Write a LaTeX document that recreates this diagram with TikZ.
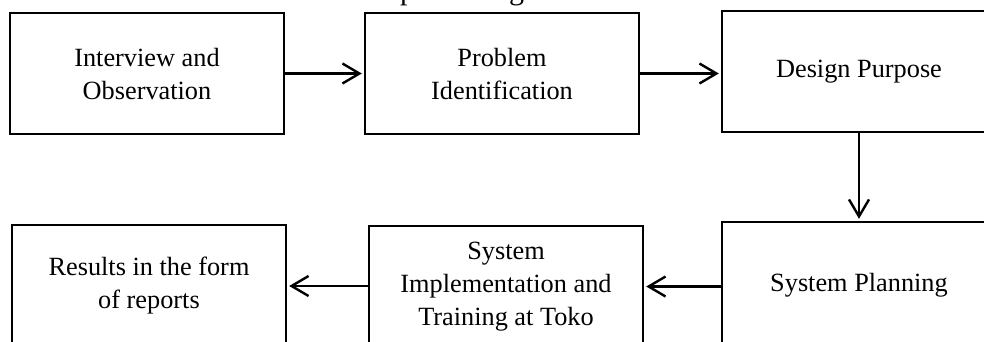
\documentclass[tikz,border=0pt]{standalone}
\usepackage{fontspec}
\setmainfont{Liberation Serif}
\usetikzlibrary{arrows.meta}
\begin{document}
\begin{tikzpicture}[x=1pt, y=-1pt,
  stagebox/.style={draw, line width=2.4pt, rectangle, minimum width=274pt,
    minimum height=121pt, align=center, inner sep=0pt,
    font=\fontsize{26.3pt}{33pt}\selectfont},
  flow/.style={line width=2.4pt, -{Straight Barb[length=17pt, width=20pt, line width=2.4pt]}, shorten >=2pt},
  titlefrag/.style={anchor=base west, inner sep=0pt, font=\fontsize{30pt}{36pt}\selectfont}]
  \useasboundingbox (0,0) rectangle (984,341);

  % fragment of the heading line above the chart
  \node[titlefrag] (fragp) at (400,-0.5) {p};
  \node[titlefrag] (fragg) at (509,-0.5) {g};

  % top row
  \node[stagebox] (interview) at (147,73.5) {Interview and\\Observation};
  \node[stagebox] (problem)   at (502,73.5) {Problem\\Identification};
  \node[stagebox] (purpose)   at (859,71.5) {Design Purpose};

  % bottom row
  \node[stagebox, minimum height=126pt] (planning) at (859,285) {System Planning};
  \node[stagebox, minimum height=121pt] (implement) at (506,286.5) {System\\Implementation and\\Training at Toko};
  \node[stagebox, minimum height=122pt] (results) at (149,286) {Results in the form\\of reports};

  % connectors
  \draw[flow] (interview.east) -- (problem.west);
  \draw[flow] (problem.east) -- (problem.east -| purpose.west);
  \draw[flow] (purpose.south) -- (planning.north);
  \draw[flow] (planning.west |- implement.east) -- (implement.east);
  \draw[flow] (implement.west |- results.east) -- (results.east);
\end{tikzpicture}
\end{document}
